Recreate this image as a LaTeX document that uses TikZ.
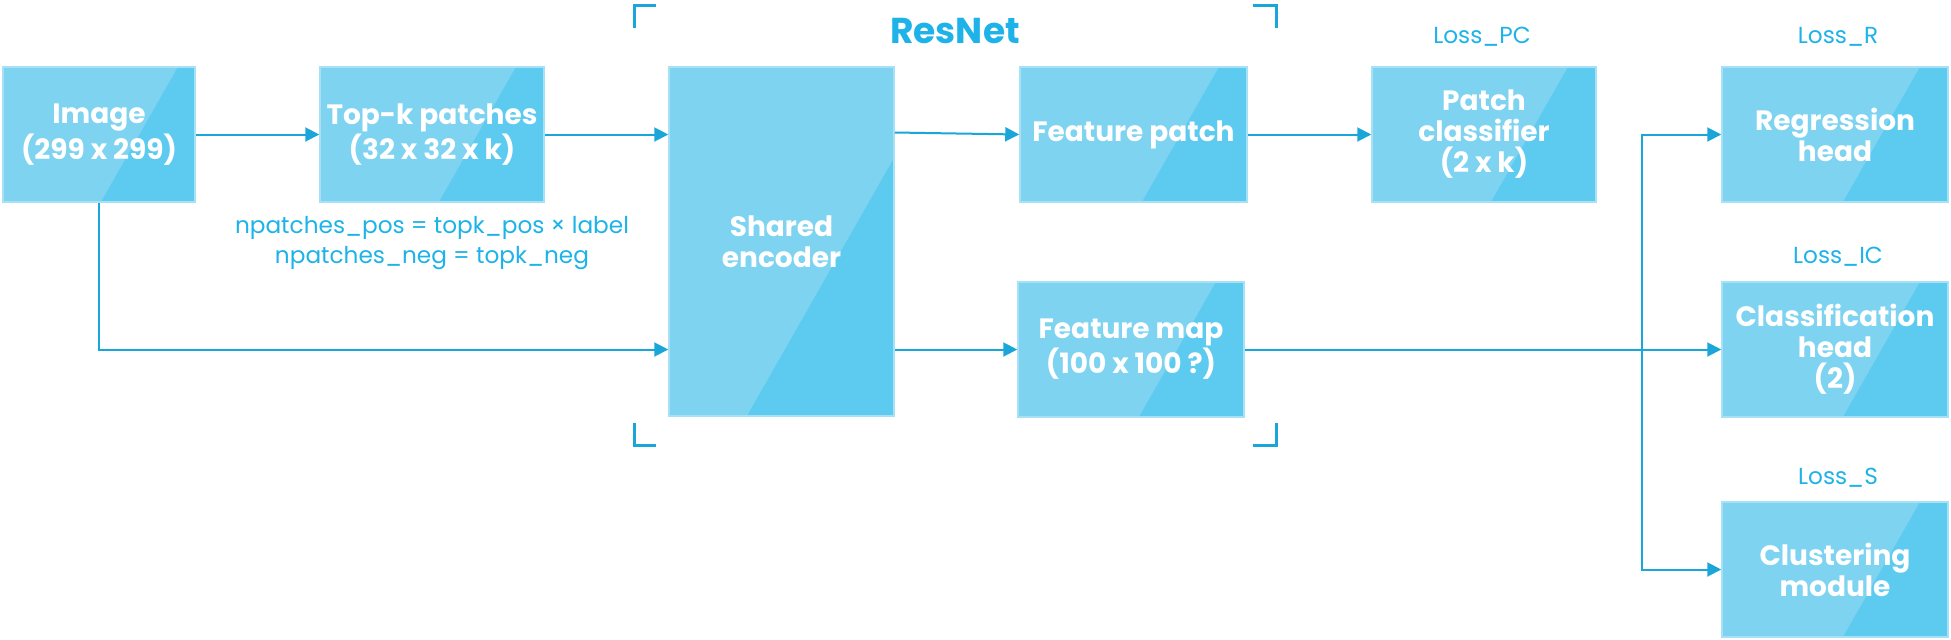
\documentclass[tikz,border=0pt]{standalone}
\usepackage{fontspec}
\setmainfont{Poppins}
\usetikzlibrary{arrows.meta,calc}
\definecolor{boxlight}{HTML}{7DD3F0}
\definecolor{boxdark}{HTML}{5DCAF0}
\definecolor{boxborder}{HTML}{A6E1F6}
\definecolor{linecol}{HTML}{1BA6DA}
\definecolor{labelblue}{HTML}{1DB3E8}
\tikzset{
  twotone/.style={path picture={\fill[boxdark] ([xshift=-#1*0.5pt]path picture bounding box.south east) -- ++(0.57*400pt,400pt) -- ++(400pt,0pt) -- ++(0pt,-800pt) -- cycle;}},
  blk/.style={draw=boxborder, line width=0.75pt, fill=boxlight, text=white,
    font=\bfseries\fontsize{14}{15.5}\selectfont, align=center, inner sep=0pt,
    minimum height=67.5pt, twotone=105},
  lbl/.style={text=labelblue, font=\fontsize{11.6}{15}\selectfont, inner sep=0pt, align=center},
  titlelbl/.style={text=labelblue, font=\bfseries\fontsize{18}{20}\selectfont, inner sep=0pt},
  conn/.style={draw=linecol, line width=1pt, -{Triangle[length=7pt,width=7pt]}},
  brk/.style={draw=linecol, line width=1.5pt}
}
\begin{document}
\begin{tikzpicture}[x=0.5pt,y=-0.5pt]
\useasboundingbox (0,0) rectangle (1951,639);
% boxes
\node[blk, minimum width=96pt, twotone=94] (img) at (99,134.5) {Image\\(299 x 299)};
\node[blk, minimum width=112pt] (topk) at (432,134.5) {Top-k patches\\(32 x 32 x k)};
\node[blk, minimum width=112.5pt, minimum height=174.5pt, twotone=147] (enc) at (781.5,241.5) {Shared\\encoder};
\node[blk, minimum width=113.5pt] (fpatch) at (1133.5,134.5) {Feature patch};
\node[blk, minimum width=113pt] (fmap) at (1131,349.5) {Feature map\\(100 x 100 ?)};
\node[blk, minimum width=112pt] (pc) at (1484,134.5) {Patch\\classifier\\(2 x k)};
\node[blk, minimum width=113pt] (reg) at (1835,134.5) {Regression\\head};
\node[blk, minimum width=113pt] (cls) at (1835,349.5) {Classification\\head\\(2)};
\node[blk, minimum width=113pt] (clu) at (1835,569.5) {Clustering\\module};
% labels
\node[titlelbl] (resnet) at (955,31) {ResNet};
\node[lbl] (lpc) at (1482,37) {Loss\_PC};
\node[lbl] (lr) at (1838,37) {Loss\_R};
\node[lbl] (lic) at (1838,257) {Loss\_IC};
\node[lbl] (ls) at (1838,478) {Loss\_S};
\node[lbl] (np) at (432,243) {npatches\_pos = topk\_pos × label\\npatches\_neg = topk\_neg};
% connectors
\draw[conn] (img.east) -- (topk.west);
\draw[conn] (topk.east) -- (topk.east -| enc.west);
\draw[conn] ($(enc.east |- fpatch.west)+(0,-2)$) -- (fpatch.west);
\draw[conn] (fpatch.east) -- (pc.west);
\draw[conn] (img.south) |- (enc.west |- fmap.west);
\draw[conn] (enc.east |- fmap.west) -- (fmap.west);
\coordinate (j) at (1642,349.5);
\draw[conn] (fmap.east) -- (cls.west);
\draw[conn] (j) |- (reg.west);
\draw[conn] (j) |- (clu.west);
% ResNet brackets
\draw[brk] (634,28) -- (634,5) -- (656,5);
\draw[brk] (1253,5) -- (1276,5) -- (1276,28);
\draw[brk] (634,423) -- (634,445) -- (656,445);
\draw[brk] (1253,445) -- (1276,445) -- (1276,423);
\end{tikzpicture}
\end{document}
